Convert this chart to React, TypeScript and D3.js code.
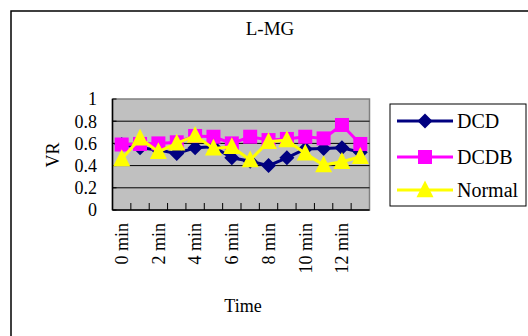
import React from "react";
import * as d3 from "d3";

const categories = ["0 min","1 min","2 min","3 min","4 min","5 min","6 min","7 min","8 min","9 min","10 min","11 min","12 min","13 min"];
const tickLabels = ["0 min","2 min","4 min","6 min","8 min","10 min","12 min"];
const yTicks = [0, 0.2, 0.4, 0.6, 0.8, 1];
const dcd = [0.59, 0.56, 0.54, 0.51, 0.56, 0.57, 0.47, 0.44, 0.40, 0.47, 0.55, 0.555, 0.56, 0.52];
const dcdb = [0.59, 0.595, 0.60, 0.61, 0.667, 0.66, 0.60, 0.66, 0.63, 0.64, 0.66, 0.645, 0.766, 0.595];
const normal = [0.46, 0.645, 0.525, 0.60, 0.67, 0.555, 0.57, 0.45, 0.615, 0.63, 0.51, 0.405, 0.435, 0.48];
const seriesNames = ["DCD", "DCDB", "Normal"];

const W = 528, H = 336;
const FONT = "'Liberation Serif', 'Times New Roman', serif";
const colors = ["#000080", "#ff00ff", "#ffff00"];

function Marker({ kind, x, y, color }: { kind: number; x: number; y: number; color: string }) {
  if (kind === 0) {
    const s = 7.5;
    return <path d={`M${x},${y - s}L${x + s},${y}L${x},${y + s}L${x - s},${y}Z`} fill={color} />;
  }
  if (kind === 1) {
    const s = 7;
    return <rect x={x - s} y={y - s} width={2 * s} height={2 * s} fill={color} />;
  }
  const h = 16, w = 17;
  return <path d={`M${x},${y - h * 0.6}L${x + w / 2},${y + h * 0.45}L${x - w / 2},${y + h * 0.45}Z`} fill={color} />;
}

export default function App() {
  const x = d3.scaleBand<string>().domain(categories).range([112.5, 369.5]).padding(0);
  const y = d3.scaleLinear().domain([0, 1]).range([210, 99]);
  const data = [dcd, dcdb, normal];
  const line = d3.line<number>()
    .x((_, i) => (x(categories[i]) as number) + x.bandwidth() / 2)
    .y((d) => y(d));
  const [x0, x1] = x.range();
  const legendY = [121, 157, 190];

  return (
    <svg width={W} height={H} style={{ position: "absolute", left: 0, top: 0 }} fontFamily={FONT}>
      <rect x={0} y={0} width={W} height={H} fill="#fff" />
      <rect x={11} y={11} width={W} height={H} fill="none" stroke="#000" strokeWidth={1.5} />
      <text x={270} y={35} textAnchor="middle" fontSize={19}>L-MG</text>

      <rect x={x0} y={y(1)} width={x1 - x0} height={y(0) - y(1)} fill="#c0c0c0" stroke="#808080" strokeWidth={1.5} />
      {yTicks.filter((t) => t > 0 && t < 1).map((t) => (
        <line key={t} x1={x0} x2={x1} y1={y(t)} y2={y(t)} stroke="#000" strokeWidth={1} />
      ))}
      {yTicks.map((t) => (
        <g key={"yt" + t}>
          <line x1={x0} x2={x0 + 4} y1={y(t)} y2={y(t)} stroke="#000" />
          <text x={97} y={y(t)} dy="0.35em" textAnchor="end" fontSize={18}>{d3.format("")(t)}</text>
        </g>
      ))}
      {categories.map((c, i) => i > 0 && (
        <line key={"xt" + c} x1={x(c)} x2={x(c)} y1={y(0)} y2={y(0) - 7} stroke="#000" />
      ))}
      <line x1={x0} x2={x0} y1={y(1)} y2={y(0)} stroke="#000" strokeWidth={1.5} />
      <line x1={x0} x2={x1} y1={y(0)} y2={y(0)} stroke="#000" strokeWidth={1.5} />

      {data.map((vals, si) => (
        <g key={si}>
          <path d={line(vals) as string} fill="none" stroke={colors[si]} strokeWidth={3} />
          {vals.map((v, i) => (
            <Marker key={i} kind={si} x={(x(categories[i]) as number) + x.bandwidth() / 2} y={y(v)} color={colors[si]} />
          ))}
        </g>
      ))}

      {tickLabels.map((lab) => {
        const cx = (x(lab) as number) + x.bandwidth() / 2;
        return (
          <text key={lab} transform={`translate(${cx},223) rotate(-90)`} dy="0.35em" textAnchor="end" fontSize={18}>{lab}</text>
        );
      })}
      <text x={243} y={312} textAnchor="middle" fontSize={18}>Time</text>
      <text transform="translate(53,155) rotate(-90)" dy="0.35em" textAnchor="middle" fontSize={18}>VR</text>

      <rect x={390} y={104} width={136} height={102} fill="#fff" stroke="#000" strokeWidth={1} />
      {seriesNames.map((n, si) => (
        <g key={n}>
          <line x1={397} x2={453} y1={legendY[si]} y2={legendY[si]} stroke={colors[si]} strokeWidth={3} />
          <Marker kind={si} x={425} y={legendY[si]} color={colors[si]} />
          <text x={457} y={legendY[si]} dy="0.35em" fontSize={20}>{n}</text>
        </g>
      ))}
    </svg>
  );
}
